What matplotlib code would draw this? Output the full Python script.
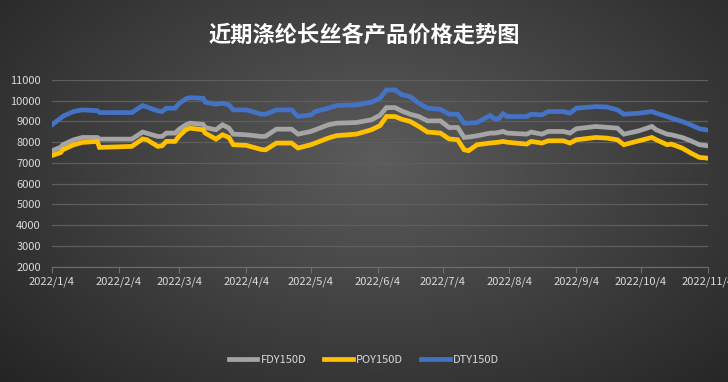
import numpy as np
import pandas as pd
import matplotlib
matplotlib.use("Agg")
import matplotlib.pyplot as plt
import matplotlib.patheffects as pe

plt.rcParams['font.family'] = ['Noto Sans CJK SC', 'DejaVu Sans']

# Data
dates = ["2022-01-04", "2022-01-08", "2022-01-09", "2022-01-14", "2022-01-18", "2022-01-25",
         "2022-01-26", "2022-02-10", "2022-02-15", "2022-02-17", "2022-02-22", "2022-02-24",
         "2022-02-26", "2022-03-02", "2022-03-04", "2022-03-07", "2022-03-09", "2022-03-15",
         "2022-03-16", "2022-03-21", "2022-03-24", "2022-03-27", "2022-03-29", "2022-04-04",
         "2022-04-11", "2022-04-13", "2022-04-18", "2022-04-25", "2022-04-28", "2022-05-04",
         "2022-05-06", "2022-05-12", "2022-05-16", "2022-05-25", "2022-06-01", "2022-06-05",
         "2022-06-08", "2022-06-12", "2022-06-15", "2022-06-19", "2022-06-23", "2022-06-27",
         "2022-07-03", "2022-07-07", "2022-07-11", "2022-07-14", "2022-07-16", "2022-07-20",
         "2022-07-26", "2022-07-28", "2022-07-30", "2022-08-01", "2022-08-03", "2022-08-12",
         "2022-08-14", "2022-08-19", "2022-08-22", "2022-08-29", "2022-09-01", "2022-09-04",
         "2022-09-13", "2022-09-18", "2022-09-23", "2022-09-26", "2022-10-03", "2022-10-09",
         "2022-10-11", "2022-10-16", "2022-10-18", "2022-10-23", "2022-10-27", "2022-10-31",
         "2022-11-03"]

dty = [8840, 9160, 9250, 9480, 9560, 9520, 9430, 9430, 9770, 9700, 9510, 9480,
       9640, 9640, 9880, 10090, 10150, 10120, 9930, 9830, 9880, 9800, 9560, 9560,
       9350, 9350, 9560, 9560, 9240, 9320, 9480, 9640, 9770, 9800, 9930, 10120,
       10520, 10520, 10300, 10200, 9880, 9640, 9590, 9350, 9350, 8920, 8920, 8950,
       9290, 9130, 9130, 9370, 9240, 9240, 9350, 9320, 9480, 9480, 9400, 9640,
       9720, 9700, 9560, 9350, 9400, 9480, 9400, 9240, 9160, 9000, 8840, 8650,
       8600]

fdy = [7590, 7760, 7875, 8115, 8230, 8230, 8150, 8150, 8490, 8430, 8280, 8280,
       8440, 8440, 8630, 8840, 8920, 8860, 8710, 8600, 8840, 8680, 8390, 8360,
       8280, 8290, 8630, 8630, 8390, 8520, 8600, 8840, 8920, 8950, 9080, 9300,
       9670, 9670, 9510, 9350, 9240, 9030, 9030, 8710, 8710, 8230, 8250, 8310,
       8440, 8440, 8470, 8520, 8440, 8390, 8490, 8390, 8520, 8520, 8440, 8650,
       8760, 8720, 8680, 8390, 8550, 8760, 8600, 8390, 8360, 8230, 8070, 7880,
       7840]

poy = [7360, 7500, 7635, 7875, 7990, 8040, 7750, 7800, 8160, 8120, 7800, 7830,
       8040, 8040, 8310, 8600, 8680, 8600, 8440, 8150, 8360, 8230, 7880, 7850,
       7650, 7635, 7960, 7960, 7720, 7880, 7960, 8200, 8320, 8390, 8600, 8800,
       9240, 9240, 9110, 9000, 8760, 8490, 8440, 8160, 8120, 7640, 7590, 7880,
       7960, 7980, 8000, 8040, 8000, 7910, 8040, 7960, 8070, 8070, 7960, 8120,
       8230, 8200, 8120, 7880, 8070, 8230, 8120, 7880, 7910, 7720, 7480, 7270,
       7240]

series_names = ["FDY150D", "POY150D", "DTY150D"]
series_colors = ["#A5A5A5", "#FFC000", "#4472C4"]
month_ticks = ["2022-01-04", "2022-02-04", "2022-03-04", "2022-04-04", "2022-05-04", "2022-06-04",
               "2022-07-04", "2022-08-04", "2022-09-04", "2022-10-04", "2022-11-04"]
tick_labels = ["2022/1/4", "2022/2/4", "2022/3/4", "2022/4/4", "2022/5/4", "2022/6/4",
               "2022/7/4", "2022/8/4", "2022/9/4", "2022/10/4", "2022/11/4"]

x = pd.to_datetime(dates)

fig = plt.figure(figsize=(7.28, 3.82), dpi=100)

# radial dark background
bg = fig.add_axes([0, 0, 1, 1], zorder=-10)
gx, gy = np.meshgrid(np.linspace(0, 1, 400), np.linspace(0, 1, 220))
r = np.sqrt(((gx - 0.52) / 0.75) ** 2 + ((gy - 0.42) / 0.9) ** 2)
shade = np.clip(0.36 - 0.23 * r, 0.14, 0.36)
bg.imshow(np.dstack([shade] * 3), extent=[0, 1, 0, 1], aspect='auto', origin='upper')
bg.axis('off')

ax = fig.add_axes([52 / 728, 1 - 266.7 / 382, (708 - 52) / 728, (266.7 - 80) / 382])
ax.set_facecolor('none')

for vals, name, col in zip([fdy, poy, dty], series_names, series_colors):
    ax.plot(x, vals, color=col, lw=3.4, solid_joinstyle='miter', label=name,
            path_effects=[pe.Stroke(linewidth=7.5, foreground=col, alpha=0.2),
                          pe.Stroke(linewidth=5.5, foreground=col, alpha=0.35),
                          pe.Normal()])

ax.set_ylim(2000, 11000)
ax.set_yticks(range(2000, 11001, 1000))
ax.set_xlim(pd.Timestamp("2022-01-04"), pd.Timestamp("2022-11-04"))
ax.set_xticks(pd.to_datetime(month_ticks))
ax.set_xticklabels(tick_labels)

ax.grid(axis='y', color='#5e5e5e', lw=0.9)
ax.set_axisbelow(True)
for s in ['top', 'right', 'left']:
    ax.spines[s].set_visible(False)
ax.spines['bottom'].set_color('#6e6e6e')
ax.tick_params(axis='y', length=0, pad=8, labelsize=8, labelcolor='#D9D9D9')
ax.tick_params(axis='x', length=4, color='#6e6e6e', pad=3, labelsize=8, labelcolor='#D9D9D9')

fig.text(0.5, 1 - 35 / 382, "近期涤纶长丝各产品价格走势图", ha='center', va='center',
         color='white', fontsize=16, fontweight='bold')

handles, labels = ax.get_legend_handles_labels()
for h in handles:
    h.set_path_effects([])
leg = fig.legend(handles, labels, loc='center', bbox_to_anchor=(0.5, 1 - 360 / 382),
                 ncol=3, frameon=False, fontsize=8, handlelength=2.6, columnspacing=1.6,
                 handletextpad=0.3)
for t in leg.get_texts():
    t.set_color('#D9D9D9')

fig.savefig("out.png", dpi=100)
